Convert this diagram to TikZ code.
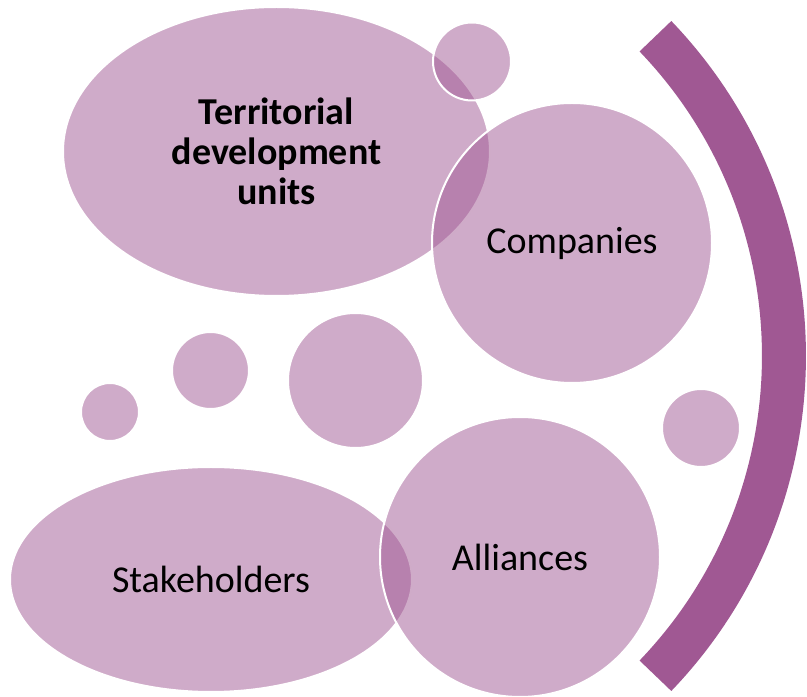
\documentclass[tikz,border=0pt]{standalone}
\usepackage{fontspec}
\setmainfont{Carlito}
\usetikzlibrary{shapes.geometric}
\definecolor{plum}{RGB}{160,88,147}
\tikzset{
  blob/.style={draw=white, line width=2pt, fill=plum, fill opacity=0.5, draw opacity=1, text opacity=1, inner sep=0pt, text=black, font=\fontsize{38}{40}\selectfont, align=center},
  oval/.style={blob, ellipse},
  disc/.style={blob, circle}
}
\begin{document}
\begin{tikzpicture}[x=1pt,y=1pt]
\useasboundingbox (0,0) rectangle (807,697);
\node[oval, minimum width=427pt, minimum height=289pt] (tdu) at (276.5,545.5) {\bfseries Territorial\\\bfseries development\\\bfseries units};
\node[disc, minimum size=78pt] (c0) at (472,635.5) {};
\node[disc, minimum size=280pt] (comp) at (572,454) {Companies};
\node[disc, minimum size=135pt] (c3) at (355.5,316.5) {};
\node[disc, minimum size=77pt] (c2) at (210.5,326.5) {};
\node[disc, minimum size=58pt] (c1) at (110,285) {};
\node[disc, minimum size=78pt] (c4) at (701,269) {};
\node[oval, minimum width=402pt, minimum height=225pt] (stake) at (211,117.5) {Stakeholders};
\node[disc, minimum size=280pt] (all) at (520,140) {Alliances};
\begin{scope}[shift={(322,341)}]
\fill[plum] (43.8:484) arc[start angle=43.8,end angle=-43.8,radius=484] -- (-43.8:440) arc[start angle=-43.8,end angle=43.8,radius=440] -- cycle;
\end{scope}
\end{tikzpicture}
\end{document}
